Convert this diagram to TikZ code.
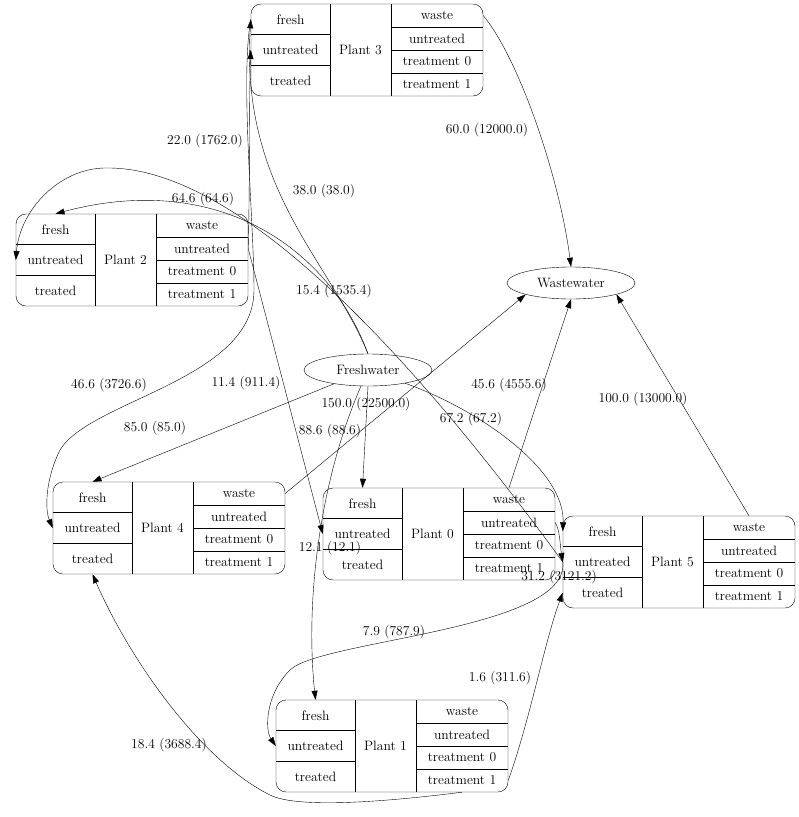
\documentclass[tikz,border=0pt]{standalone}
\usetikzlibrary{arrows.meta,shapes.geometric}
\begin{document}
\begin{tikzpicture}[x=1pt,y=-1pt,
  every node/.style={font=\fontsize{13.6}{15}\selectfont},
  cell/.style={inner sep=0pt,anchor=center},
  ell/.style={ellipse,draw,minimum width=128pt,minimum height=32pt,inner sep=0pt},
  lbl/.style={inner sep=1pt},
  edge/.style={-{Triangle[length=9pt,width=6pt]}}]
\newcommand\plant[4]{%
  \begin{scope}[shift={(#2,#3)}]
    \draw[rounded corners=10pt] (0,0) rectangle (232,92);
    \draw (79,0) -- (79,92) (140,0) -- (140,92)
          (0,30.67) -- (79,30.67) (0,61.33) -- (79,61.33)
          (140,23) -- (232,23) (140,46) -- (232,46) (140,69) -- (232,69);
    \node[cell,minimum width=79pt,minimum height=30.67pt] (#1f) at (39.5,15.3) {fresh};
    \node[cell,minimum width=79pt,minimum height=30.67pt] (#1u) at (39.5,46) {untreated};
    \node[cell,minimum width=79pt,minimum height=30.67pt] (#1t) at (39.5,76.7) {treated};
    \node[cell] (#1n) at (109.5,46) {#4};
    \node[cell,minimum width=92pt,minimum height=23pt] (#1w) at (186,11.5) {waste};
    \node[cell,minimum width=92pt,minimum height=23pt] (#1r) at (186,34.5) {untreated};
    \node[cell,minimum width=92pt,minimum height=23pt] (#1a) at (186,57.5) {treatment 0};
    \node[cell,minimum width=92pt,minimum height=23pt] (#1b) at (186,80.5) {treatment 1};
  \end{scope}}
\useasboundingbox (0,0) rectangle (799,817);
\plant{pc}{251}{4}{Plant 3}
\plant{pb}{16}{214}{Plant 2}
\plant{pd}{53}{482}{Plant 4}
\plant{pa}{323}{488}{Plant 0}
\plant{pe}{563}{516}{Plant 5}
\plant{pf}{276}{700}{Plant 1}
\node[ell] (ww) at (571,283) {Wastewater};
\node[ell] (fw) at (368,370) {Freshwater};
% freshwater supply
\draw[edge] (fw.north) .. controls (330,260) and (240,190) .. (pcf.west);
\node[lbl] (l1) at (324,191) {38.0 (38.0)};
\draw[edge] (fw.north) .. controls (330,250) and (220,170) .. (pbf.north);
\node[lbl] (l2) at (203,199) {64.6 (64.6)};
\draw[edge] (fw) -- (pdf.north);
\node[lbl] (l3) at (155,428) {85.0 (85.0)};
\draw[edge] (fw.south) -- (paf.north);
\node[lbl] (l4) at (366,404) {150.0 (22500.0)};
\draw[edge] (fw) .. controls (320,480) and (305,600) .. (pff.north);
\node[lbl] (l5) at (330,431) {88.6 (88.6)};
\draw[edge] (fw) .. controls (480,410) and (565,470) .. (pef.west);
\node[lbl] (l6) at (471,419) {67.2 (67.2)};
% internal flows
\draw[edge] (pbr.east) .. controls (250,180) and (249,100) .. (pcu.west);
\node[lbl] (l7) at (205,141) {22.0 (1762.0)};
\draw[edge] (pbr.east) -- (pau.west);
\node[lbl] (l8) at (246,383) {11.4 (911.4)};
\draw[edge] (pcf.west) .. controls (240,80) and (254,220) .. (254,290)
  .. controls (254,380) and (90,400) .. (60,450) .. controls (45,480) and (45,510) .. (pdu.west);
\node[lbl] (l9) at (109,385) {46.6 (3726.6)};
\draw[edge] (peu.west) .. controls (430,380) and (250,170) .. (110,168)
  .. controls (60,166) and (20,210) .. (pbu.west);
\node[lbl] (l10) at (334,291) {15.4 (1535.4)};
\draw[edge] (par.east) .. controls (560,530) and (560,545) .. (peu.west);
\node[lbl] (l11) at (559,577) {31.2 (3121.2)};
\node[lbl] (l12) at (330,548) {12.1 (12.1)};
\draw[edge] (peu.west) .. controls (570,630) and (320,640) .. (290,670)
  .. controls (265,695) and (265,730) .. (pfu.west);
\node[lbl] (l13) at (394,632) {7.9 (787.9)};
\draw[edge] (pfb.east) .. controls (530,720) and (545,640) .. (pet.west);
\node[lbl] (l14) at (500,678) {1.6 (311.6)};
\draw[edge] (pfb.south) .. controls (400,800) and (300,810) .. (270,795)
  .. controls (200,760) and (130,660) .. (pdt.south);
\node[lbl] (l15) at (169,745) {18.4 (3688.4)};
% wastewater
\draw[edge] (pcw.east) .. controls (520,60) and (560,180) .. (ww.north);
\node[lbl] (l16) at (487,130) {60.0 (12000.0)};
\draw[edge] (pdw.east) -- (ww.south west);
\draw[edge] (paw.north) -- (ww.south);
\node[lbl] (l17) at (509,385) {45.6 (4555.6)};
\draw[edge] (pew.north) -- (ww.south east);
\node[lbl] (l18) at (643,399) {100.0 (13000.0)};
\end{tikzpicture}
\end{document}
